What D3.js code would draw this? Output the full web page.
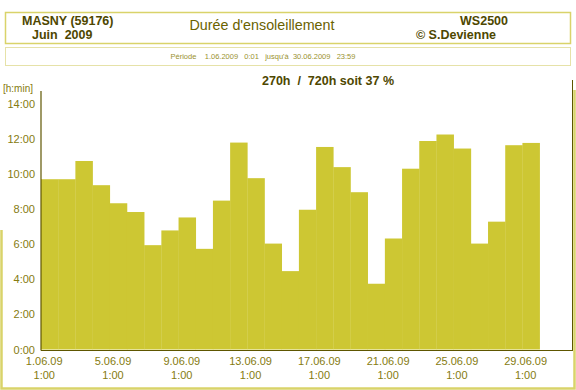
<!DOCTYPE html>
<html>
<head>
<meta charset="utf-8">
<script src="https://cdn.jsdelivr.net/npm/d3@7"></script>
<style>
  body { margin: 0; background: #fff; }
  svg { display: block; font-family: "Liberation Sans", Arial, sans-serif; }
</style>
</head>
<body>
<svg id="chart" width="576" height="390"></svg>
<script>
// daily sunshine duration, June 2009 (hours), day 30 not drawn
var days = [1, 2, 3, 4, 5, 6, 7, 8, 9, 10, 11, 12, 13, 14, 15, 16, 17, 18, 19, 20, 21, 22, 23, 24, 25, 26, 27, 28, 29];
var sunHours = [9.71, 9.71, 10.75, 9.37, 8.34, 7.84, 5.95, 6.79, 7.53, 5.74, 8.49, 11.8, 9.77, 6.04, 4.47,
  7.97, 11.55, 10.4, 8.97, 3.75, 6.33, 10.31, 11.89, 12.26, 11.46, 6.04, 7.29, 11.65, 11.78];
var yTicks = [0, 2, 4, 6, 8, 10, 12, 14];
var xTickDays = [1, 5, 9, 13, 17, 21, 25, 29];
var xTickLabels = ["1.06.09", "5.06.09", "9.06.09", "13.06.09", "17.06.09", "21.06.09", "25.06.09", "29.06.09"];

var svg = d3.select("#chart");
var barColor = "#cdc733";
var tickColor = "#857b10";
var darkText = "#4e4700";
var frameColor = "#d9d36a";

function dayDate(d, h) {
  return new Date(Date.UTC(2009, 5, d, h || 0));
}

var x = d3.scaleUtc()
  .domain([dayDate(1), dayDate(32)])
  .range([41, 574]);

var y = d3.scaleLinear()
  .domain([0, 14])
  .range([349.5, 104]);

// header boxes
svg.append("rect").attr("x", 5.5).attr("y", 12.5).attr("width", 565).attr("height", 31)
  .attr("fill", "none").attr("stroke", frameColor).attr("stroke-width", 1.5);
svg.append("rect").attr("x", 5.5).attr("y", 47.5).attr("width", 565).attr("height", 18)
  .attr("fill", "none").attr("stroke", "#e6e2a8").attr("stroke-width", 1);

svg.append("text").attr("x", 22).attr("y", 25).attr("font-weight", "bold").attr("font-size", 12.5)
  .attr("fill", darkText).text("MASNY (59176)");
svg.append("text").attr("x", 32).attr("y", 39).attr("font-weight", "bold").attr("font-size", 12.5)
  .attr("fill", darkText).attr("xml:space", "preserve").text("Juin  2009");
svg.append("text").attr("x", 262).attr("y", 30).attr("text-anchor", "middle").attr("font-size", 14.3)
  .attr("fill", "#6a6200").text("Durée d'ensoleillement");
svg.append("text").attr("x", 508).attr("y", 25).attr("text-anchor", "end").attr("font-weight", "bold").attr("font-size", 12.5)
  .attr("fill", darkText).text("WS2500");
svg.append("text").attr("x", 496).attr("y", 39).attr("text-anchor", "end").attr("font-weight", "bold").attr("font-size", 12.5)
  .attr("fill", darkText).text("© S.Devienne");
svg.append("text").attr("x", 263).attr("y", 59).attr("text-anchor", "middle").attr("font-size", 7.5)
  .attr("fill", "#9a9230").attr("xml:space", "preserve")
  .text("Période    1.06.2009   0:01   jusqu'à  30.06.2009   23:59");

svg.append("text").attr("x", 328).attr("y", 85).attr("text-anchor", "middle").attr("font-weight", "bold").attr("font-size", 12.5)
  .attr("fill", darkText).attr("xml:space", "preserve").text("270h  /  720h soit 37 %");

svg.append("text").attr("x", 3).attr("y", 92).attr("font-size", 10)
  .attr("fill", tickColor).text("[h:min]");

// bars
svg.append("g").selectAll("rect")
  .data(days)
  .enter().append("rect")
  .attr("x", function (d) { return x(dayDate(d)); })
  .attr("width", function (d) { return x(dayDate(d + 1)) - x(dayDate(d)) + 0.3; })
  .attr("y", function (d, i) { return y(sunHours[i]); })
  .attr("height", function (d, i) { return y(0) - y(sunHours[i]); })
  .attr("fill", barColor);

// y axis
var yAxis = svg.append("g")
  .attr("transform", "translate(41,0)")
  .call(d3.axisLeft(y).tickValues(yTicks).tickSize(0).tickPadding(6)
    .tickFormat(function (d) { return d + ":00"; }));
yAxis.select(".domain").remove();
yAxis.selectAll("text").attr("fill", tickColor).attr("font-size", 11)
  .attr("font-family", "Liberation Sans, Arial, sans-serif");

svg.append("line").attr("x1", 41).attr("x2", 41).attr("y1", 91).attr("y2", 350.5)
  .attr("stroke", "#5e5600").attr("stroke-width", 1.2);
svg.append("line").attr("x1", 41).attr("x2", 573).attr("y1", 350.5).attr("y2", 350.5)
  .attr("stroke", "#5e5600").attr("stroke-width", 1.2);
svg.append("line").attr("x1", 572.5).attr("x2", 572.5).attr("y1", 80).attr("y2", 351)
  .attr("stroke", "#5e5600").attr("stroke-width", 1);

// x axis
var xAxis = svg.append("g")
  .attr("transform", "translate(0,351)")
  .call(d3.axisBottom(x).tickValues(xTickDays.map(function (d) { return dayDate(d, 1); }))
    .tickSize(0).tickPadding(6).tickFormat(function (d, i) { return xTickLabels[i]; }));
xAxis.select(".domain").remove();
xAxis.selectAll("text").each(function (d, i) {
  var t = d3.select(this).text("").attr("fill", tickColor).attr("font-size", 11)
    .attr("font-family", "Liberation Sans, Arial, sans-serif");
  t.append("tspan").attr("x", 2).attr("dy", "0.71em").text(xTickLabels[i]);
  t.append("tspan").attr("x", 2).attr("dy", "1.25em").text("1:00");
});

// scanned frame edges
svg.append("path")
  .attr("d", "M1.5,230 L1.5,388.5 L574.5,388.5 L574.5,90")
  .attr("fill", "none").attr("stroke", frameColor).attr("stroke-width", 2.5);
</script>
</body>
</html>
